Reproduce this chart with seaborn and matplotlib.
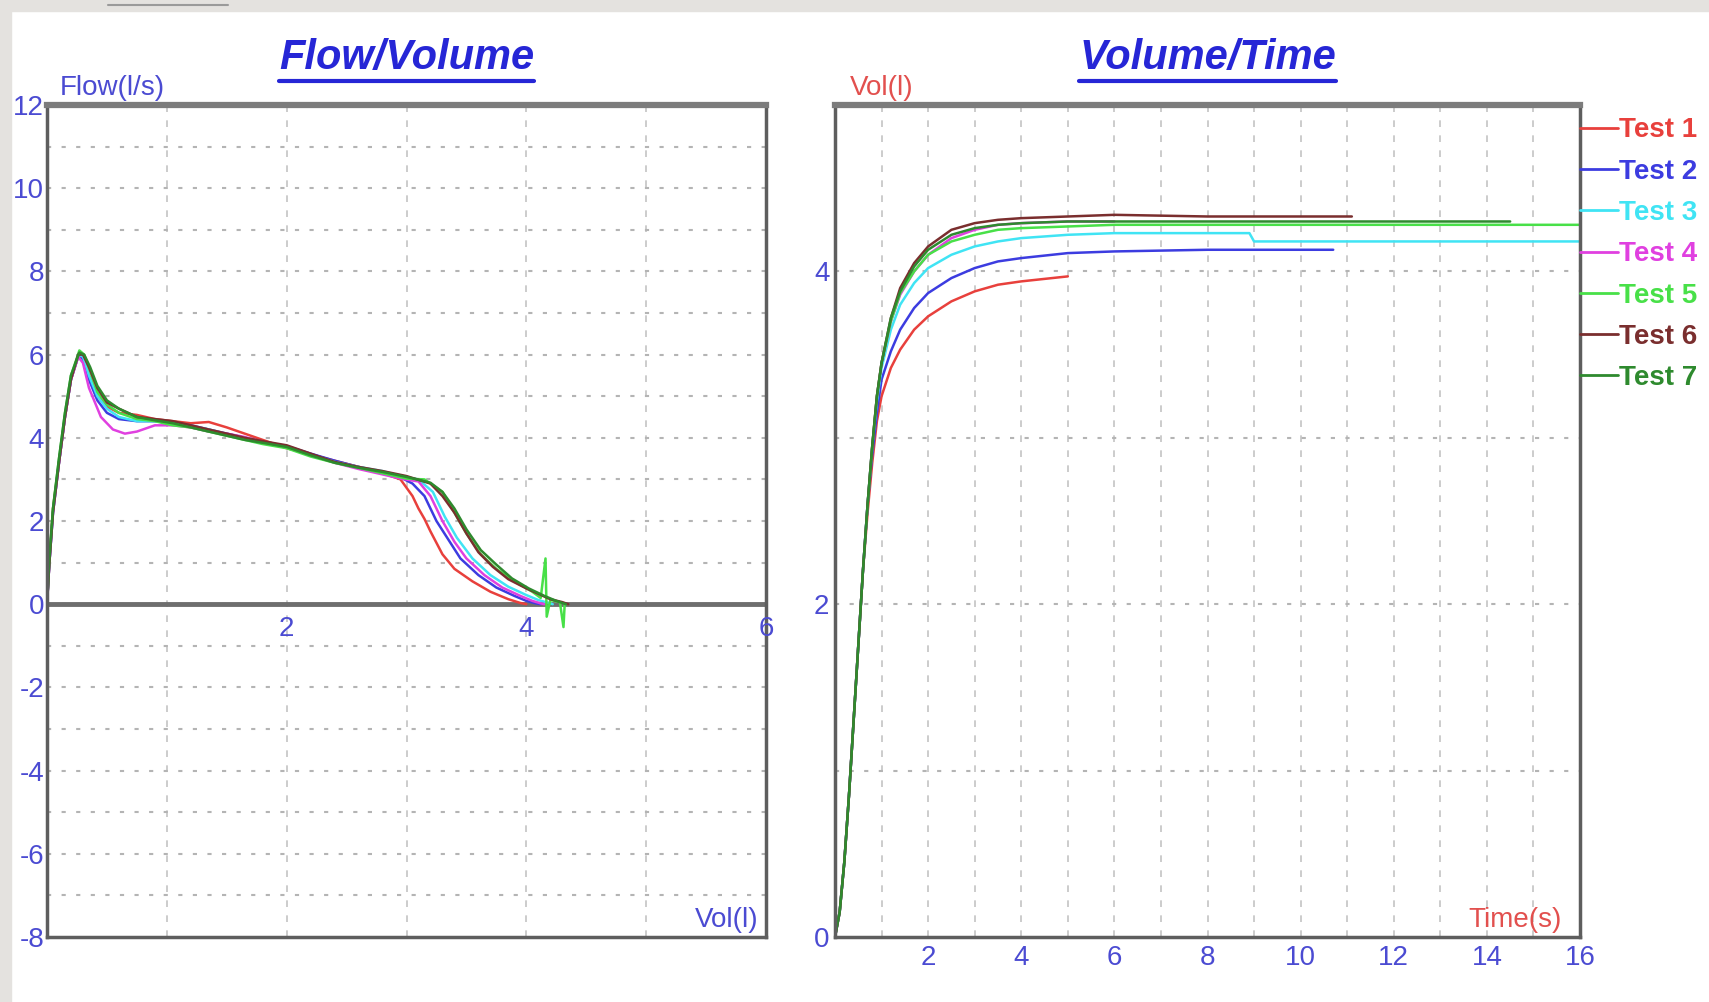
import numpy as np
import pandas as pd
import matplotlib
matplotlib.use("Agg")
import matplotlib.pyplot as plt
from matplotlib.lines import Line2D
from matplotlib.patches import Rectangle
import seaborn as sns

sns.set_style("white")
plt.rcParams['font.family'] = ['Liberation Sans Narrow', 'Liberation Sans', 'DejaVu Sans']

# 1. data
TESTS = ['Test 1', 'Test 2', 'Test 3', 'Test 4', 'Test 5', 'Test 6', 'Test 7']
COLORS = ['#e8403c', '#3c3ce0', '#40e4f4', '#e040e0', '#48e048', '#7a2e2e', '#2e8a2e']

# flow/volume loops (volume in l, flow in l/s)
FV_VOL = [
    [0, 0.02, 0.05, 0.1, 0.15, 0.2, 0.26, 0.3, 0.35, 0.42, 0.5, 0.6, 0.75, 0.9, 1.05, 1.2, 1.35, 1.5, 1.65,
     1.8, 2.0, 2.2, 2.4, 2.6, 2.8, 2.95, 3.05, 3.1, 3.15, 3.2, 3.3, 3.4, 3.55, 3.7, 3.85, 3.95, 4.0],
    [0, 0.02, 0.05, 0.1, 0.15, 0.2, 0.26, 0.3, 0.35, 0.42, 0.5, 0.6, 0.75, 0.9, 1.05, 1.2, 1.35, 1.5, 1.65,
     1.8, 2.0, 2.2, 2.4, 2.6, 2.8, 2.95, 3.05, 3.15, 3.25, 3.35, 3.45, 3.6, 3.75, 3.9, 4.0, 4.08, 4.12],
    [0, 0.02, 0.05, 0.1, 0.15, 0.2, 0.26, 0.3, 0.35, 0.42, 0.5, 0.6, 0.75, 0.9, 1.05, 1.2, 1.35, 1.5, 1.65,
     1.8, 2.0, 2.2, 2.4, 2.6, 2.8, 2.95, 3.1, 3.22, 3.32, 3.42, 3.55, 3.7, 3.85, 4.0, 4.1, 4.2, 4.22],
    [0, 0.02, 0.05, 0.1, 0.15, 0.2, 0.26, 0.3, 0.35, 0.45, 0.55, 0.65, 0.75, 0.9, 1.05, 1.2, 1.35, 1.5, 1.65,
     1.8, 2.0, 2.2, 2.4, 2.6, 2.8, 2.95, 3.1, 3.2, 3.3, 3.4, 3.5, 3.65, 3.8, 3.95, 4.05, 4.12, 4.15],
    [0, 0.02, 0.05, 0.1, 0.15, 0.2, 0.27, 0.31, 0.36, 0.42, 0.5, 0.6, 0.75, 0.9, 1.05, 1.2, 1.35, 1.5, 1.65,
     1.8, 2.0, 2.2, 2.4, 2.6, 2.8, 3.0, 3.15, 3.3, 3.4, 3.5, 3.62, 3.75, 3.9, 4.05, 4.12, 4.16, 4.17,
     4.2, 4.28, 4.31, 4.32],
    [0, 0.02, 0.05, 0.1, 0.15, 0.2, 0.26, 0.3, 0.35, 0.42, 0.5, 0.6, 0.75, 0.9, 1.05, 1.2, 1.35, 1.5, 1.65,
     1.8, 2.0, 2.2, 2.4, 2.6, 2.8, 3.0, 3.2, 3.3, 3.4, 3.5, 3.6, 3.72, 3.85, 4.0, 4.1, 4.2, 4.3, 4.35],
    [0, 0.02, 0.05, 0.1, 0.15, 0.2, 0.27, 0.31, 0.36, 0.42, 0.5, 0.6, 0.75, 0.9, 1.05, 1.2, 1.35, 1.5, 1.65,
     1.8, 2.0, 2.2, 2.4, 2.6, 2.8, 3.0, 3.2, 3.3, 3.4, 3.5, 3.62, 3.75, 3.88, 4.02, 4.15, 4.25, 4.33],
]
FV_FLOW = [
    [0, 1.0, 2.3, 3.4, 4.5, 5.4, 5.95, 5.9, 5.5, 5.0, 4.75, 4.6, 4.55, 4.45, 4.4, 4.35, 4.38, 4.25, 4.1,
     3.95, 3.75, 3.6, 3.45, 3.3, 3.15, 3.0, 2.6, 2.3, 2.05, 1.75, 1.2, 0.85, 0.55, 0.3, 0.12, 0.03, 0],
    [0, 1.0, 2.2, 3.4, 4.5, 5.4, 5.95, 5.9, 5.4, 4.9, 4.6, 4.45, 4.4, 4.4, 4.35, 4.3, 4.2, 4.1, 4.0,
     3.9, 3.8, 3.62, 3.45, 3.3, 3.18, 3.05, 2.9, 2.6, 2.0, 1.55, 1.1, 0.7, 0.4, 0.2, 0.08, 0.02, 0],
    [0, 1.0, 2.2, 3.4, 4.5, 5.4, 6.0, 5.95, 5.5, 5.0, 4.7, 4.5, 4.4, 4.4, 4.35, 4.28, 4.2, 4.08, 4.0,
     3.88, 3.8, 3.6, 3.42, 3.3, 3.2, 3.08, 3.0, 2.7, 2.1, 1.6, 1.1, 0.7, 0.42, 0.22, 0.1, 0.02, 0],
    [0, 1.0, 2.2, 3.4, 4.5, 5.4, 5.95, 5.8, 5.2, 4.5, 4.2, 4.1, 4.15, 4.3, 4.3, 4.25, 4.15, 4.1, 4.02,
     3.9, 3.78, 3.6, 3.4, 3.25, 3.12, 3.02, 2.95, 2.6, 2.0, 1.5, 1.1, 0.7, 0.4, 0.2, 0.08, 0.02, 0],
    [0, 1.1, 2.3, 3.5, 4.6, 5.5, 6.1, 6.0, 5.6, 5.1, 4.8, 4.6, 4.45, 4.4, 4.3, 4.25, 4.15, 4.05, 3.95,
     3.85, 3.75, 3.55, 3.4, 3.28, 3.15, 3.02, 3.0, 2.7, 2.2, 1.7, 1.2, 0.85, 0.55, 0.3, 0.15, 1.1, -0.3,
     0.1, 0.05, -0.55, 0],
    [0, 1.0, 2.2, 3.4, 4.5, 5.4, 6.0, 6.0, 5.7, 5.2, 4.85, 4.7, 4.5, 4.45, 4.4, 4.3, 4.2, 4.1, 4.0,
     3.92, 3.82, 3.62, 3.42, 3.3, 3.2, 3.08, 2.9, 2.6, 2.2, 1.7, 1.25, 0.9, 0.6, 0.38, 0.25, 0.12, 0.05, 0],
    [0, 1.1, 2.3, 3.5, 4.6, 5.5, 6.05, 6.0, 5.7, 5.25, 4.9, 4.7, 4.5, 4.42, 4.35, 4.25, 4.15, 4.05, 3.95,
     3.88, 3.78, 3.58, 3.4, 3.28, 3.18, 3.06, 2.92, 2.7, 2.3, 1.8, 1.3, 0.95, 0.62, 0.38, 0.2, 0.08, 0],
]

# volume/time curves (time in s, volume in l)
VT_TIME = [
    [0, 0.1, 0.2, 0.3, 0.4, 0.5, 0.6, 0.7, 0.8, 0.9, 1.0, 1.2, 1.4, 1.7, 2.0, 2.5, 3.0, 3.5, 4.0, 5.0],
    [0, 0.1, 0.2, 0.3, 0.4, 0.5, 0.6, 0.7, 0.8, 0.9, 1.0, 1.2, 1.4, 1.7, 2.0, 2.5, 3.0, 3.5, 4.0, 5.0, 6.0, 8.0, 10.7],
    [0, 0.1, 0.2, 0.3, 0.4, 0.5, 0.6, 0.7, 0.8, 0.9, 1.0, 1.2, 1.4, 1.7, 2.0, 2.5, 3.0, 3.5, 4.0, 5.0, 6.0, 8.9, 9.0, 16.0],
    [0, 0.1, 0.2, 0.3, 0.4, 0.5, 0.6, 0.7, 0.8, 0.9, 1.0, 1.2, 1.4, 1.7, 2.0, 2.5, 3.0, 3.5, 4.0, 5.0, 6.0],
    [0, 0.1, 0.2, 0.3, 0.4, 0.5, 0.6, 0.7, 0.8, 0.9, 1.0, 1.2, 1.4, 1.7, 2.0, 2.5, 3.0, 3.5, 4.0, 5.0, 6.0, 10.0, 16.0],
    [0, 0.1, 0.2, 0.3, 0.4, 0.5, 0.6, 0.7, 0.8, 0.9, 1.0, 1.2, 1.4, 1.7, 2.0, 2.5, 3.0, 3.5, 4.0, 5.0, 6.0, 8.0, 11.1],
    [0, 0.1, 0.2, 0.3, 0.4, 0.5, 0.6, 0.7, 0.8, 0.9, 1.0, 1.2, 1.4, 1.7, 2.0, 2.5, 3.0, 3.5, 4.0, 5.0, 6.0, 10.0, 14.5],
]
VT_VOL = [
    [0, 0.15, 0.45, 0.85, 1.3, 1.75, 2.2, 2.55, 2.85, 3.1, 3.25, 3.42, 3.53, 3.65, 3.73, 3.82, 3.88, 3.92, 3.94, 3.97],
    [0, 0.15, 0.45, 0.85, 1.3, 1.75, 2.2, 2.6, 2.9, 3.15, 3.35, 3.52, 3.65, 3.78, 3.87, 3.96, 4.02, 4.06, 4.08, 4.11, 4.12, 4.13, 4.13],
    [0, 0.15, 0.45, 0.85, 1.3, 1.75, 2.2, 2.6, 2.95, 3.22, 3.42, 3.65, 3.8, 3.93, 4.02, 4.1, 4.15, 4.18, 4.2, 4.22, 4.23, 4.23, 4.18, 4.18],
    [0, 0.15, 0.45, 0.85, 1.3, 1.75, 2.2, 2.6, 2.95, 3.25, 3.45, 3.7, 3.86, 4.0, 4.1, 4.2, 4.25, 4.28, 4.29, 4.3, 4.3],
    [0, 0.15, 0.45, 0.85, 1.3, 1.75, 2.2, 2.6, 2.95, 3.25, 3.45, 3.7, 3.87, 4.0, 4.1, 4.18, 4.22, 4.25, 4.26, 4.27, 4.28, 4.28, 4.28],
    [0, 0.15, 0.45, 0.85, 1.3, 1.75, 2.2, 2.6, 2.95, 3.25, 3.45, 3.72, 3.9, 4.05, 4.15, 4.25, 4.29, 4.31, 4.32, 4.33, 4.34, 4.33, 4.33],
    [0, 0.15, 0.45, 0.85, 1.3, 1.75, 2.2, 2.6, 2.95, 3.25, 3.45, 3.72, 3.88, 4.03, 4.13, 4.22, 4.26, 4.28, 4.29, 4.3, 4.3, 4.3, 4.3],
]

fv = pd.concat([pd.DataFrame({'vol': v, 'flow': f, 'test': t})
                for v, f, t in zip(FV_VOL, FV_FLOW, TESTS)])
vt = pd.concat([pd.DataFrame({'time': x, 'vol': y, 'test': t})
                for x, y, t in zip(VT_TIME, VT_VOL, TESTS)])
palette = dict(zip(TESTS, COLORS))

BLUE = '#4b4bd2'
RED = '#e2504e'
TITLE_BLUE = '#2626d6'
SPINE = '#5e5e5e'
FS = 20

fig = plt.figure(figsize=(17.09, 10.02), dpi=100)
fig.patch.set_facecolor('white')
fig.add_artist(Rectangle((0, 0), 11 / 1709, 1, transform=fig.transFigure, color='#e4e2df', zorder=0))
fig.add_artist(Rectangle((0, 1 - 11 / 1002), 1, 11 / 1002, transform=fig.transFigure, color='#e4e2df', zorder=0))
fig.add_artist(Line2D([108 / 1709, 228 / 1709], [1 - 5 / 1002] * 2, transform=fig.transFigure, color='#9a9a9a', lw=1.5))

ax1 = fig.add_axes([47 / 1709, 65 / 1002, 719 / 1709, 832 / 1002])
ax2 = fig.add_axes([835 / 1709, 65 / 1002, 745 / 1709, 832 / 1002])


def style_axes(ax, xmax, ymin, ymax):
    ax.set_xlim(0, xmax)
    ax.set_ylim(ymin, ymax)
    for x in range(1, int(xmax)):
        ax.axvline(x, color='#c4c4c4', lw=1.2, ls=(0, (4, 5)), zorder=0)
    for y in range(int(ymin) + 1, int(ymax)):
        ax.axhline(y, color='#b4b4b4', lw=1.5, ls=(0, (2, 5)), zorder=0)
    for s in ax.spines.values():
        s.set_visible(True)
        s.set_color(SPINE)
        s.set_linewidth(2.5)
    ax.spines['top'].set_color('#7c7c7c')
    ax.spines['top'].set_linewidth(4.5)
    ax.set_xlabel('')
    ax.set_ylabel('')
    ax.tick_params(length=0, colors=BLUE, labelsize=FS)


# 2. Flow / Volume
sns.lineplot(data=fv, x='vol', y='flow', hue='test', units='test', palette=palette, sort=False,
             estimator=None, lw=1.8, legend=False, ax=ax1)
style_axes(ax1, 6, -8, 12)
ax1.axhline(0, color='#6e6e6e', lw=3.5, zorder=1)
ax1.set_yticks(range(-8, 13, 2))
ax1.set_yticklabels([str(v) for v in range(-8, 13, 2)])
ax1.tick_params(axis='y', pad=2)
ax1.set_xticks([])
for v in [2, 4, 6]:
    ax1.text(v, -0.28, str(v), ha='center', va='top', color=BLUE, fontsize=FS)
ax1.text(0.018, 1.005, 'Flow(l/s)', transform=ax1.transAxes, color=BLUE, fontsize=FS, va='bottom')
ax1.text(0.99, 0.005, 'Vol(l)', transform=ax1.transAxes, color=BLUE, fontsize=FS, ha='right', va='bottom')

# 3. Volume / Time
sns.lineplot(data=vt, x='time', y='vol', hue='test', palette=palette, sort=False,
             estimator=None, lw=1.8, ax=ax2)
style_axes(ax2, 16, 0, 5)
ax2.set_yticks([0, 2, 4])
ax2.set_xticks(range(2, 17, 2))
ax2.tick_params(axis='y', pad=4)
ax2.tick_params(axis='x', pad=6)
ax2.text(0.02, 1.005, 'Vol(l)', transform=ax2.transAxes, color=RED, fontsize=FS, va='bottom')
ax2.text(0.975, 0.005, 'Time(s)', transform=ax2.transAxes, color=RED, fontsize=FS, ha='right', va='bottom')

leg = ax2.legend(loc='upper left', bbox_to_anchor=(1.0, 0.985), frameon=False, fontsize=FS,
                 handlelength=1.35, handletextpad=0.05, labelspacing=0.55, borderpad=0,
                 borderaxespad=0, labelcolor='linecolor')
for t in leg.get_texts():
    t.set_fontweight('bold')
for h in leg.get_lines():
    h.set_linewidth(2)

# 4. titles, underlined
for ax, title in [(ax1, 'Flow/Volume'), (ax2, 'Volume/Time')]:
    txt = ax.text(0.5, 1.056, title, transform=ax.transAxes, ha='center', va='center',
                  color=TITLE_BLUE, fontsize=30, fontweight='bold', style='italic',
                  family=['Liberation Sans', 'DejaVu Sans'])
    fig.canvas.draw()
    bb = txt.get_window_extent().transformed(ax.transAxes.inverted())
    ax.add_line(Line2D([bb.x0, bb.x1], [bb.y0 - 0.003, bb.y0 - 0.003], transform=ax.transAxes,
                       color=TITLE_BLUE, lw=3, clip_on=False))

fig.savefig('out.png', dpi=100, facecolor=fig.get_facecolor())
